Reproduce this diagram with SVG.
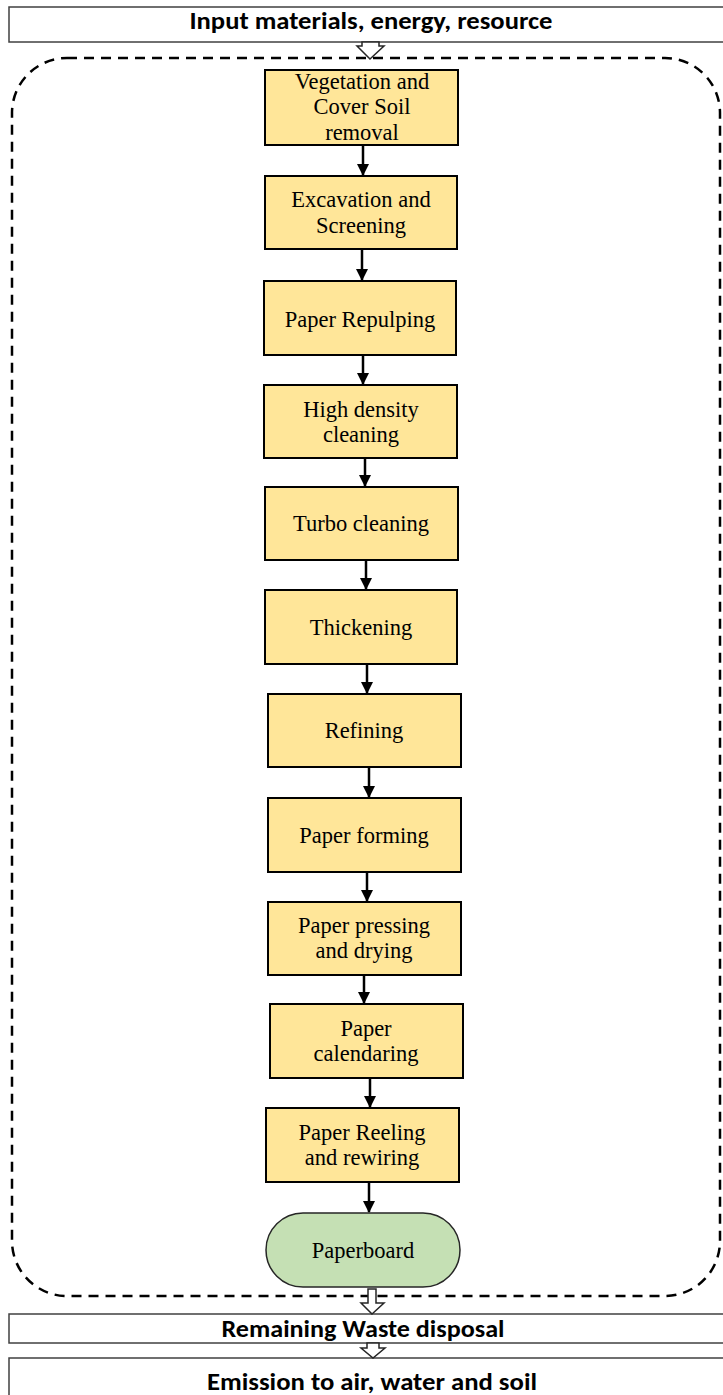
<svg xmlns="http://www.w3.org/2000/svg" width="723" height="1395" viewBox="0 0 723 1395">
<style>
.bar{fill:#fff;stroke:#404040;stroke-width:1.5}
.bt{font-family:Carlito,"Liberation Sans",Arial,sans-serif;font-weight:bold;font-size:24px;fill:#000;text-anchor:middle}
.box{fill:#FFE699;stroke:#000;stroke-width:2}
.nt{font-family:"Liberation Serif","Times New Roman",serif;font-size:22.5px;fill:#000;text-anchor:middle}
.con{stroke:#000;stroke-width:2.5;fill:none}
.hollow{fill:#fff;stroke:#262626;stroke-width:1.5}
</style>
<defs>
<marker id="ah" markerWidth="12" markerHeight="12" refX="11" refY="6" orient="auto" markerUnits="userSpaceOnUse" viewBox="0 0 12 12">
<path d="M0,0 L12,6 L0,12 Z" fill="#000"/>
</marker>
</defs>
<rect width="723" height="1395" fill="#fff"/>
<g id="boundary">
<rect x="12" y="58" width="708" height="1238" rx="55" ry="55" fill="none" stroke="#000" stroke-width="2.5" stroke-dasharray="10,7"/>
</g>
<g id="input">
<rect class="bar" x="9" y="7" width="720" height="35"/>
<text class="bt" x="371" y="29" textLength="363" lengthAdjust="spacingAndGlyphs">Input materials, energy, resource</text>
</g>
<g id="waste">
<rect class="bar" x="9" y="1314" width="720" height="29"/>
<text class="bt" x="363" y="1337" textLength="283" lengthAdjust="spacingAndGlyphs">Remaining Waste disposal</text>
</g>
<g id="emission">
<rect class="bar" x="9" y="1358" width="720" height="45"/>
<text class="bt" x="372" y="1390" textLength="330" lengthAdjust="spacingAndGlyphs">Emission to air, water and soil</text>
</g>
<g id="n1"><rect class="box" x="265" y="70" width="193" height="75"/>
<text class="nt" x="362" y="89">Vegetation and</text><text class="nt" x="362" y="114">Cover Soil</text><text class="nt" x="362" y="140">removal</text></g>
<g id="n2"><rect class="box" x="265" y="176" width="192" height="73"/>
<text class="nt" x="361" y="207">Excavation and</text><text class="nt" x="361" y="233">Screening</text></g>
<g id="n3"><rect class="box" x="264" y="281" width="192" height="74"/>
<text class="nt" x="360" y="327">Paper Repulping</text></g>
<g id="n4"><rect class="box" x="264" y="385" width="193" height="73"/>
<text class="nt" x="361" y="417">High density</text><text class="nt" x="361" y="442">cleaning</text></g>
<g id="n5"><rect class="box" x="265" y="487" width="193" height="73"/>
<text class="nt" x="361" y="531">Turbo cleaning</text></g>
<g id="n6"><rect class="box" x="265" y="590" width="192" height="74"/>
<text class="nt" x="361" y="635">Thickening</text></g>
<g id="n7"><rect class="box" x="268" y="694" width="193" height="73"/>
<text class="nt" x="364" y="738">Refining</text></g>
<g id="n8"><rect class="box" x="268" y="798" width="193" height="74"/>
<text class="nt" x="364" y="843">Paper forming</text></g>
<g id="n9"><rect class="box" x="268" y="902" width="193" height="73"/>
<text class="nt" x="364" y="933">Paper pressing</text><text class="nt" x="364" y="958">and drying</text></g>
<g id="n10"><rect class="box" x="270" y="1004" width="193" height="74"/>
<text class="nt" x="366" y="1036">Paper</text><text class="nt" x="366" y="1061">calendaring</text></g>
<g id="n11"><rect class="box" x="266" y="1108" width="193" height="74"/>
<text class="nt" x="362" y="1140">Paper Reeling</text><text class="nt" x="362" y="1165">and rewiring</text></g>
<g id="n12"><rect x="266" y="1213" width="194" height="74" rx="37" ry="37" fill="#C5E0B4" stroke="#262626" stroke-width="1.5"/>
<text class="nt" x="363" y="1258">Paperboard</text></g>
<g id="connectors">
<path class="con" marker-end="url(#ah)" d="M363,146 V175"/>
<path class="con" marker-end="url(#ah)" d="M362,250 V280"/>
<path class="con" marker-end="url(#ah)" d="M363,356 V384"/>
<path class="con" marker-end="url(#ah)" d="M365,459 V486"/>
<path class="con" marker-end="url(#ah)" d="M366,561 V589"/>
<path class="con" marker-end="url(#ah)" d="M367,665 V693"/>
<path class="con" marker-end="url(#ah)" d="M369,768 V797"/>
<path class="con" marker-end="url(#ah)" d="M367,873 V901"/>
<path class="con" marker-end="url(#ah)" d="M364,976 V1003"/>
<path class="con" marker-end="url(#ah)" d="M370,1079 V1107"/>
<path class="con" marker-end="url(#ah)" d="M369,1183 V1212"/>
<path class="hollow" d="M362,42 V46 H357 L370,59 L384,46 H379 V42 Z"/>
<path class="hollow" d="M368,1289 V1303 H361 L372,1314 L384,1303 H376 V1289 Z"/>
<path class="hollow" d="M367,1343 V1348 H361 L373,1358 L385,1348 H379 V1343 Z"/>
</g>
</svg>
